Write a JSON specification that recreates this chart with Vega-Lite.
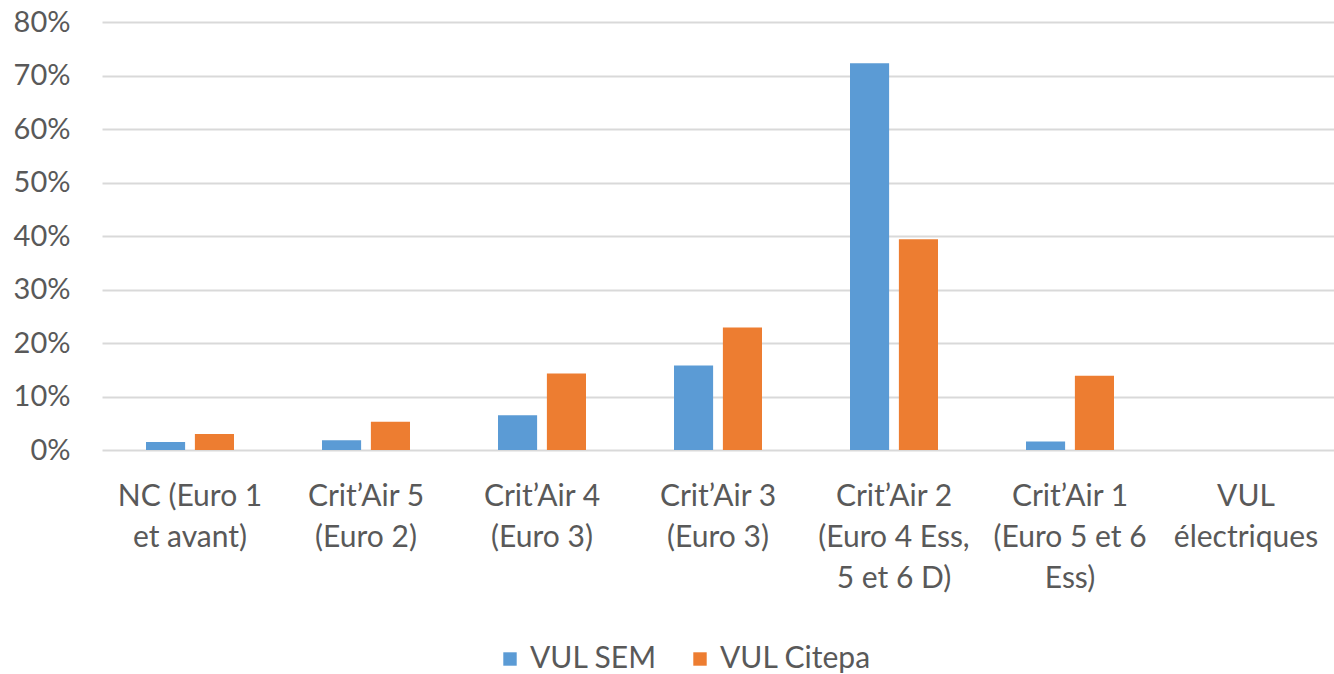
{
  "$schema": "https://vega.github.io/schema/vega-lite/v6.json",
  "width": 1232,
  "height": 428,
  "autosize": {"type": "none"},
  "padding": {"left": 102, "top": 22, "right": 0, "bottom": 224},
  "background": "white",
  "config": {
    "view": {"stroke": null},
    "font": "Lato",
    "axis": {"labelFont": "Lato", "labelColor": "#595959", "labelFontSize": 30},
    "legend": {"labelFont": "Lato", "labelColor": "#595959", "labelFontSize": 30}
  },
  "data": {
    "values": [
      {"categorie": "NC (Euro 1|et avant)", "serie": "VUL SEM", "part": 0.015},
      {"categorie": "NC (Euro 1|et avant)", "serie": "VUL Citepa", "part": 0.030},
      {"categorie": "Crit’Air 5|(Euro 2)", "serie": "VUL SEM", "part": 0.018},
      {"categorie": "Crit’Air 5|(Euro 2)", "serie": "VUL Citepa", "part": 0.053},
      {"categorie": "Crit’Air 4|(Euro 3)", "serie": "VUL SEM", "part": 0.065},
      {"categorie": "Crit’Air 4|(Euro 3)", "serie": "VUL Citepa", "part": 0.143},
      {"categorie": "Crit’Air 3|(Euro 3)", "serie": "VUL SEM", "part": 0.158},
      {"categorie": "Crit’Air 3|(Euro 3)", "serie": "VUL Citepa", "part": 0.229},
      {"categorie": "Crit’Air 2|(Euro 4 Ess,|5 et 6 D)", "serie": "VUL SEM", "part": 0.723},
      {"categorie": "Crit’Air 2|(Euro 4 Ess,|5 et 6 D)", "serie": "VUL Citepa", "part": 0.394},
      {"categorie": "Crit’Air 1|(Euro 5 et 6|Ess)", "serie": "VUL SEM", "part": 0.016},
      {"categorie": "Crit’Air 1|(Euro 5 et 6|Ess)", "serie": "VUL Citepa", "part": 0.139},
      {"categorie": "VUL|électriques", "serie": "VUL SEM", "part": 0},
      {"categorie": "VUL|électriques", "serie": "VUL Citepa", "part": 0}
    ]
  },
  "mark": {"type": "bar"},
  "encoding": {
    "x": {
      "field": "categorie",
      "type": "nominal",
      "sort": null,
      "scale": {"paddingInner": 0.5, "paddingOuter": 0.25},
      "axis": {
        "title": null,
        "labelAngle": 0,
        "domain": false,
        "ticks": false,
        "labelExpr": "split(datum.label, '|')",
        "labelPadding": 31,
        "labelLineHeight": 41,
        "labelBaseline": "top"
      }
    },
    "xOffset": {
      "field": "serie",
      "type": "nominal",
      "sort": ["VUL SEM", "VUL Citepa"],
      "scale": {"paddingInner": 0.2, "paddingOuter": 0}
    },
    "y": {
      "field": "part",
      "type": "quantitative",
      "scale": {"domain": [0, 0.8], "nice": false},
      "axis": {
        "title": null,
        "format": ".0%",
        "values": [0, 0.1, 0.2, 0.3, 0.4, 0.5, 0.6, 0.7, 0.8],
        "domain": false,
        "ticks": false,
        "labelFontSize": 29,
        "labelPadding": 32,
        "gridColor": "#D9D9D9",
        "gridWidth": 2
      }
    },
    "color": {
      "field": "serie",
      "type": "nominal",
      "scale": {"domain": ["VUL SEM", "VUL Citepa"], "range": ["#5B9BD5", "#ED7D31"]},
      "legend": {
        "title": null,
        "orient": "none",
        "direction": "horizontal",
        "legendX": 393,
        "legendY": 622,
        "symbolType": "square",
        "symbolSize": 180,
        "symbolStrokeWidth": 0,
        "labelOffset": 5,
        "columnPadding": 28
      }
    }
  }
}
